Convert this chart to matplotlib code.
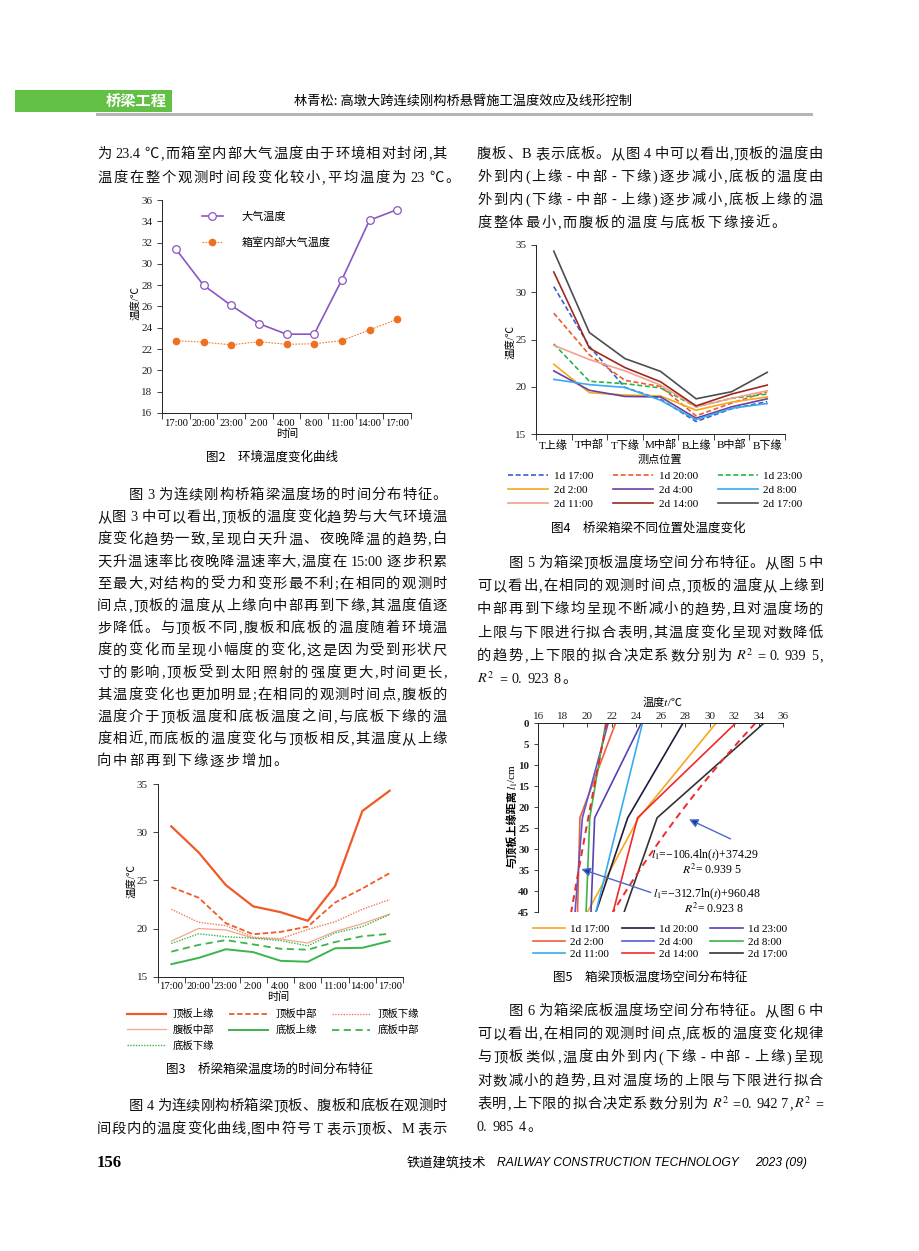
import re
import numpy as np
import matplotlib
matplotlib.use('Agg')
import matplotlib.pyplot as plt
from matplotlib.patches import Rectangle
from matplotlib.lines import Line2D

W, H = 920, 1251
SERIF_CJK = ['Liberation Serif', 'Noto Sans CJK SC', 'STIXGeneral']
SANS_CJK = ['Noto Sans CJK SC', 'DejaVu Sans']

plt.rcParams['font.family'] = SERIF_CJK
plt.rcParams['mathtext.fontset'] = 'stix'
plt.rcParams['axes.linewidth'] = 0.7
plt.rcParams['axes.edgecolor'] = '#222222'

# ---------------- data: fig 2 (ambient temperature)
TIMES = ['17:00', '20:00', '23:00', '2:00', '4:00', '8:00', '11:00', '14:00', '17:00']
AIR_TEMP = [31.4, 28.0, 26.1, 24.4, 23.4, 23.4, 28.5, 34.1, 35.1]
BOX_TEMP = [22.8, 22.65, 22.4, 22.7, 22.45, 22.5, 22.8, 23.8, 24.8]

# ---------------- data: fig 3 (time distribution per location)
PART_NAMES = ['顶板上缘', '顶板中部', '顶板下缘', '腹板中部', '底板上缘', '底板中部', '底板下缘']
TOP_UPPER = [30.6, 27.9, 24.5, 22.3, 21.7, 20.8, 24.4, 32.2, 34.3]
TOP_MID = [24.3, 23.2, 20.55, 19.4, 19.65, 20.2, 22.7, 24.15, 25.75]
TOP_LOWER = [22.0, 20.65, 20.3, 19.1, 18.95, 19.9, 20.7, 22.0, 23.0]
WEB_MID = [18.7, 20.0, 19.85, 19.0, 18.9, 18.5, 19.7, 20.5, 21.5]
BOT_UPPER = [16.3, 16.95, 17.85, 17.55, 16.65, 16.55, 17.95, 18.0, 18.7]
BOT_MID = [17.6, 18.3, 18.8, 18.35, 17.9, 17.8, 18.6, 19.2, 19.45]
BOT_LOWER = [18.45, 19.45, 19.15, 19.0, 18.75, 18.2, 19.55, 20.2, 21.45]

# ---------------- data: fig 4 (temperature per measuring point)
POINTS = ['T上缘', 'T中部', 'T下缘', 'M中部', 'B上缘', 'B中部', 'B下缘']
SERIES = ['1d 17:00', '1d 20:00', '1d 23:00', '2d 2:00', '2d 4:00',
          '2d 8:00', '2d 11:00', '2d 14:00', '2d 17:00']
P_1D1700 = [30.6, 24.3, 19.95, 18.7, 16.35, 17.7, 18.45]
P_1D2000 = [27.8, 23.4, 20.7, 20.05, 16.95, 18.3, 19.5]
P_1D2300 = [24.55, 20.6, 20.35, 19.9, 17.9, 18.8, 19.25]
P_2D0200 = [22.4, 19.4, 19.15, 19.05, 17.55, 18.4, 18.95]
P_2D0400 = [21.7, 19.65, 19.0, 18.95, 16.7, 17.9, 18.75]
P_2D0800 = [20.8, 20.25, 19.95, 18.6, 16.55, 17.75, 18.25]
P_2D1100 = [24.4, 22.9, 21.7, 20.2, 17.9, 18.8, 19.6]
P_2D1400 = [32.15, 24.1, 22.05, 20.55, 18.0, 19.25, 20.2]
P_2D1700 = [34.35, 25.75, 23.0, 21.65, 18.75, 19.5, 21.55]

# ---------------- data: fig 5 (top slab spatial distribution)
DEPTHS = [0, 22.5, 45]
D_1D1700 = [30.5, 24.2, 20.0]
D_1D2000 = [27.8, 23.3, 20.7]
D_1D2300 = [24.4, 20.6, 20.3]
D_2D0200 = [22.3, 19.4, 19.2]
D_2D0400 = [21.7, 19.6, 19.0]
D_2D0800 = [21.5, 20.2, 19.9]
D_2D1100 = [24.5, 22.6, 20.7]
D_2D1400 = [32.1, 24.1, 22.1]
D_2D1700 = [34.4, 25.7, 23.0]
FIT_UPPER = [106.4, 374.29]   # l1 = -a ln(t) + b
FIT_LOWER = [312.7, 960.48]

fig = plt.figure(figsize=(W / 100, H / 100), dpi=100)
fig.patch.set_facecolor('white')


def fx(x):
    return x / W


def fy(y):
    return 1 - y / H


def add_ax(left, top, right, bottom):
    return fig.add_axes([fx(left), fy(bottom), (right - left) / W, (bottom - top) / H])


def put(x, y, s, **kw):
    kw.setdefault('ha', 'center')
    kw.setdefault('va', 'center')
    return fig.text(fx(x), fy(y), s, **kw)


def plain(ax):
    for s in ('top', 'right'):
        ax.spines[s].set_visible(False)
    ax.tick_params(direction='out', length=3.5, width=0.6, labelsize=8, colors='#222222')


def category_axis(ax, labels, size=8):
    n = len(labels)
    ax.set_xlim(-0.5, n - 0.5)
    ax.set_xticks(np.arange(n + 1) - 0.5)
    ax.set_xticklabels([])
    ax.set_xticks(np.arange(n), minor=True)
    ax.set_xticklabels(labels, minor=True, fontsize=size)
    ax.tick_params(axis='x', which='minor', length=0, pad=4)
    ax.tick_params(axis='x', which='major', length=4)


BODY = 10.3
renderer = fig.canvas.get_renderer()


def body_line(x0, x1, y, s, justify=True):
    toks, extra = [], []
    for m in re.finditer(r'R²|[A-Za-z0-9.:]+|\S', s):
        toks.append(r'$R^2$' if m.group() == 'R²' else m.group())
        extra.append(3.0 if m.start() > 0 and s[m.start() - 1] == ' ' else 0.0)
    objs = [fig.text(0, fy(y + 5), t, fontsize=BODY, va='baseline', color='#111111')
            for t in toks]
    ws = [o.get_window_extent(renderer).width for o in objs]
    gap = (x1 - x0 - sum(ws) - sum(extra)) / (len(toks) - 1) if justify else 1.8
    x = x0
    for o, w, e in zip(objs, ws, extra):
        x += e
        o.set_x(fx(x))
        x += w + gap


def paragraph(x0, x1, y0, pitch, lines, indent=False):
    for i, s in enumerate(lines):
        start = x0 + (32 if (indent and i == 0) else 0)
        body_line(start, x1, y0 + i * pitch, s, justify=(i < len(lines) - 1))


def vertical_label(x, yc, parts, size=8):
    # rotated label built from pieces, stacked bottom to top
    objs = [fig.text(fx(x), 0, s, rotation=90, ha='center', va='bottom', fontsize=size, **kw)
            for s, kw in parts]
    hs = [o.get_window_extent(renderer).height for o in objs]
    ybot = yc + sum(hs) / 2
    for o, h in zip(objs, hs):
        o.set_y(fy(ybot))
        ybot -= h


# ---------------- header
fig.add_artist(Rectangle((fx(15), fy(112)), (172 - 15) / W, (112 - 90) / H,
                         transform=fig.transFigure, color='#62c145', lw=0))
fig.add_artist(Line2D([fx(97), fx(811)], [fy(113.5), fy(113.5)], color='#b4b4b4', lw=2.2))
put(167, 101, '桥梁工程', ha='right', color='white', fontweight='bold', fontsize=11, family=SANS_CJK)
put(463, 101, '林青松: 高墩大跨连续刚构桥悬臂施工温度效应及线形控制', fontsize=9.5, family=SANS_CJK)

# ---------------- body text
LX0, LX1 = 97, 447
RX0, RX1 = 477, 823
paragraph(LX0, LX1, 153, 24, [
    '为 23.4 ℃,而箱室内部大气温度由于环境相对封闭,其',
    '温度在整个观测时间段变化较小,平均温度为 23 ℃。'])
paragraph(LX0, LX1, 494, 22.2, [
    '图 3 为连续刚构桥箱梁温度场的时间分布特征。',
    '从图 3 中可以看出,顶板的温度变化趋势与大气环境温',
    '度变化趋势一致,呈现白天升温、夜晚降温的趋势,白',
    '天升温速率比夜晚降温速率大,温度在 15:00 逐步积累',
    '至最大,对结构的受力和变形最不利;在相同的观测时',
    '间点,顶板的温度从上缘向中部再到下缘,其温度值逐',
    '步降低。与顶板不同,腹板和底板的温度随着环境温',
    '度的变化而呈现小幅度的变化,这是因为受到形状尺',
    '寸的影响,顶板受到太阳照射的强度更大,时间更长,',
    '其温度变化也更加明显;在相同的观测时间点,腹板的',
    '温度介于顶板温度和底板温度之间,与底板下缘的温',
    '度相近,而底板的温度变化与顶板相反,其温度从上缘',
    '向中部再到下缘逐步增加。'], indent=True)
for i, s in enumerate(['图 4 为连续刚构桥箱梁顶板、腹板和底板在观测时',
                       '间段内的温度变化曲线,图中符号 T 表示顶板、M 表示']):
    body_line(LX0 + (32 if i == 0 else 0), LX1, 1105 + i * 23, s)
paragraph(RX0, RX1, 153, 23, [
    '腹板、B 表示底板。从图 4 中可以看出,顶板的温度由',
    '外到内(上缘 - 中部 - 下缘)逐步减小,底板的温度由',
    '外到内(下缘 - 中部 - 上缘)逐步减小,底板上缘的温',
    '度整体最小,而腹板的温度与底板下缘接近。'])
paragraph(RX0, RX1, 562, 23.2, [
    '图 5 为箱梁顶板温度场空间分布特征。从图 5 中',
    '可以看出,在相同的观测时间点,顶板的温度从上缘到',
    '中部再到下缘均呈现不断减小的趋势,且对温度场的',
    '上限与下限进行拟合表明,其温度变化呈现对数降低',
    '的趋势,上下限的拟合决定系数分别为 R² = 0. 939 5,',
    'R² = 0. 923 8。'], indent=True)
paragraph(RX0, RX1, 1010, 23.2, [
    '图 6 为箱梁底板温度场空间分布特征。从图 6 中',
    '可以看出,在相同的观测时间点,底板的温度变化规律',
    '与顶板类似,温度由外到内(下缘 - 中部 - 上缘)呈现',
    '对数减小的趋势,且对温度场的上限与下限进行拟合',
    '表明,上下限的拟合决定系数分别为 R² =0. 942 7,R² =',
    '0. 985 4。'], indent=True)

# ---------------- fig 2
ax = add_ax(162, 200, 411, 413)
plain(ax)
x = np.arange(len(TIMES))
ax.plot(x, AIR_TEMP, color='#8a55c4', lw=1.2, marker='o', ms=5.5, mfc='white',
        mew=0.9, label='大气温度')
ax.plot(x, BOX_TEMP, color='#f08030', lw=0.8, ls=(0, (1.5, 1.2)), marker='o', ms=4.5,
        mec='#f07020', mfc='#f07020', label='箱室内部大气温度')
ax.set_ylim(16, 36)
ax.set_yticks(range(16, 37, 2))
category_axis(ax, TIMES, size=7.6)
ax.legend(loc='upper left', bbox_to_anchor=(0.16, 0.945), frameon=False, fontsize=8,
          handlelength=1.9, handletextpad=1.7, labelspacing=1.35, borderpad=0, borderaxespad=0)
put(137, 303, '温度/℃', rotation=90, fontsize=7.5)
put(287, 434, '时间', fontsize=8)
put(272, 457, '图2　环境温度变化曲线', family=SANS_CJK, fontsize=9)

# ---------------- fig 3
ax = add_ax(157.7, 784, 403.3, 976.7)
plain(ax)
styles3 = [('#f05a28', 1.6, '-'), ('#f05a28', 1.3, (0, (3, 1.5))), ('#f27a52', 1.0, (0, (1, 1))),
           ('#f6a590', 0.9, '-'), ('#3cb44b', 1.4, '-'), ('#3cb44b', 1.3, (0, (4, 2.5))),
           ('#3cb44b', 1.0, (0, (1, 1)))]
for vals, name, (c, lw, ls) in zip([TOP_UPPER, TOP_MID, TOP_LOWER, WEB_MID, BOT_UPPER, BOT_MID, BOT_LOWER],
                                   PART_NAMES, styles3):
    ax.plot(np.arange(len(TIMES)), vals, color=c, lw=lw, ls=ls, label=name)
ax.set_ylim(15, 35)
ax.set_yticks(range(15, 36, 5))
category_axis(ax, TIMES, size=7.6)
h, l = ax.get_legend_handles_labels()
order = [0, 3, 6, 1, 4, 2, 5]
ax.legend([h[i] for i in order], [l[i] for i in order], ncol=3, loc='upper left',
          bbox_to_anchor=(-0.125, -0.168), frameon=False, fontsize=7.5, handlelength=3.7,
          handletextpad=0.7, columnspacing=1.45, labelspacing=0.55, borderpad=0, borderaxespad=0)
put(133, 881, '温度/℃', rotation=90, fontsize=7.5)
put(278, 997, '时间', fontsize=8)
put(270, 1069, '图3　桥梁箱梁温度场的时间分布特征', family=SANS_CJK, fontsize=9)

# ---------------- fig 4
ax = add_ax(536, 245, 785, 434.3)
plain(ax)
styles4 = [('#3a5fcd', '--'), ('#f05a28', '--'), ('#2db34a', '--'), ('#f7a81b', '-'),
           ('#6a3fa0', '-'), ('#38acee', '-'), ('#f4a090', '-'), ('#9b2a1f', '-'), ('#4d4d4d', '-')]
for vals, name, (c, ls) in zip([P_1D1700, P_1D2000, P_1D2300, P_2D0200, P_2D0400,
                                P_2D0800, P_2D1100, P_2D1400, P_2D1700], SERIES, styles4):
    ax.plot(np.arange(len(POINTS)), vals, color=c, lw=1.2,
            ls=(0, (3, 1.6)) if ls == '--' else '-', label=name)
ax.set_ylim(15, 35)
ax.set_yticks(range(15, 36, 5))
category_axis(ax, POINTS)
h, l = ax.get_legend_handles_labels()
order = [0, 3, 6, 1, 4, 7, 2, 5, 8]
ax.legend([h[i] for i in order], [l[i] for i in order], ncol=3, loc='upper left',
          bbox_to_anchor=(-0.112, -0.197), frameon=False, fontsize=8, handlelength=3.6,
          handletextpad=0.5, columnspacing=1.8, labelspacing=0.35, borderpad=0, borderaxespad=0)
put(512, 342, '温度/℃', rotation=90, fontsize=7.5)
put(660, 460, '测点位置', fontsize=8)
put(648, 528, '图4　桥梁箱梁不同位置处温度变化', family=SANS_CJK, fontsize=9)

# ---------------- fig 5
ax = add_ax(538.3, 723.3, 783.3, 912.3)
ax.spines['bottom'].set_visible(False)
ax.spines['right'].set_visible(False)
ax.xaxis.tick_top()
ax.tick_params(direction='out', length=3, width=0.6, labelsize=8, colors='#222222')
ax.tick_params(axis='x', direction='in', pad=2)
colors5 = ['#f7a81b', '#1c1c3c', '#5b3fb5', '#f0603a', '#5a5acc', '#3cb44b',
           '#38acee', '#ee2a2a', '#333333']
for vals, name, c in zip([D_1D1700, D_1D2000, D_1D2300, D_2D0200, D_2D0400,
                          D_2D0800, D_2D1100, D_2D1400, D_2D1700], SERIES, colors5):
    ax.plot(vals, DEPTHS, color=c, lw=1.2, label=name)
depth = np.linspace(0, 45, 80)
for a, b in (FIT_UPPER, FIT_LOWER):
    ax.plot(np.exp((b - depth) / a), depth, color='#ee2a2a', lw=1.4, ls=(0, (3.5, 2.5)))
ax.set_xlim(16, 36)
ax.set_xticks(range(16, 37, 2))
ax.set_ylim(45, 0)
ax.set_yticks(range(0, 46, 5))
for t in ax.get_yticklabels():
    t.set_fontweight('bold')
arrow = dict(arrowstyle='-|>', color='#4a6acc', lw=1.0, mutation_scale=13, fc='#1f3a9a')
ax.annotate('', xy=(28.1, 22.6), xytext=(31.9, 27.8), arrowprops=arrow)
ax.annotate('', xy=(19.3, 34.5), xytext=(25.4, 40.5), arrowprops=arrow)
ax.text(29.6, 31.5, r'$l_1$=−106.4ln($t$)+374.29', ha='center', va='center', fontsize=8.5)
ax.text(30.2, 34.9, r'$R^2$= 0.939 5', ha='center', va='center', fontsize=8.5)
ax.text(29.8, 40.7, r'$l_1$=−312.7ln($t$)+960.48', ha='center', va='center', fontsize=8.5)
ax.text(30.3, 44.2, r'$R^2$= 0.923 8', ha='center', va='center', fontsize=8.5)
h, l = ax.get_legend_handles_labels()
order = [0, 3, 6, 1, 4, 7, 2, 5, 8]
ax.legend([h[i] for i in order], [l[i] for i in order], ncol=3, loc='upper left',
          bbox_to_anchor=(-0.022, -0.065), frameon=False, fontsize=8, handlelength=2.9,
          handletextpad=0.45, columnspacing=1.1, labelspacing=0.22, borderpad=0, borderaxespad=0)
put(663, 703, '温度𝑡/℃', fontsize=8)
vertical_label(513, 817, [('与顶板上缘距离', {'fontweight': 'bold'}),
                          (r'$l_1$', {}),
                          ('/cm', {})])
put(650, 977, '图5　箱梁顶板温度场空间分布特征', family=SANS_CJK, fontsize=9)

# ---------------- footer
put(97, 1163, '156', ha='left', fontsize=12, fontweight='bold', family='Liberation Serif')
put(407, 1163, '铁道建筑技术', ha='left', fontsize=9.5, family=SANS_CJK)
put(497, 1163, 'RAILWAY CONSTRUCTION TECHNOLOGY', ha='left', fontsize=8.7,
    style='italic', family='Liberation Sans')
put(807, 1163, '2023 (09)', ha='right', fontsize=8.7, style='italic', family='Liberation Sans')

fig.savefig('out.png', dpi=100)
plt.close(fig)
